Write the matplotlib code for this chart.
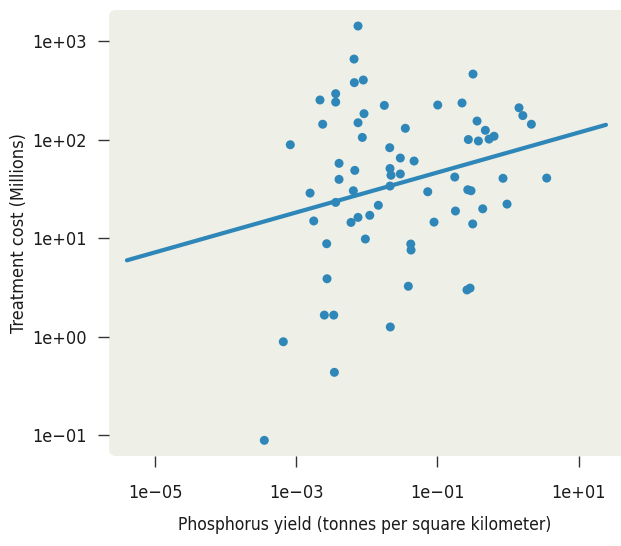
import numpy as np
import matplotlib
matplotlib.use('Agg')
import matplotlib.pyplot as plt
from matplotlib.patches import FancyBboxPatch
from matplotlib.ticker import FixedLocator, NullLocator

# phosphorus yield (t/km2) and treatment cost (millions)
yield_t = [0.0075, 0.00659, 0.00665, 0.00891, 0.00362, 0.00217, 0.00362, 0.0177,
           0.101, 0.00912, 0.0075, 0.00237, 0.00863, 0.0351, 0.000824, 0.0211,
           0.0298, 0.0467, 0.00404, 0.00675, 0.0213, 0.00404, 0.0220, 0.0298,
           0.00157, 0.00644, 0.00362, 0.0213, 0.01456, 0.0729, 0.00177, 0.00597,
           0.0075, 0.0110, 0.0895, 0.00270, 0.00953, 0.0419, 0.0423, 0.00273,
           0.0387, 0.00250, 0.00340, 0.0215, 0.000656, 0.00347, 0.000353, 0.319,
           0.223, 1.43, 1.62, 2.14, 0.364, 0.477, 0.274, 0.380,
           0.538, 0.634, 0.176, 0.849, 3.53, 0.269, 0.299, 0.180,
           0.438, 0.968, 0.316, 0.262, 0.290]
cost_m = [1420, 656, 378, 402, 292, 252, 240, 222,
          224, 183, 148, 143, 105, 130, 88.5, 82.6,
          64.9, 60.5, 57.3, 48.6, 50.8, 39.4, 43.4, 44.7,
          28.6, 30.2, 23.0, 33.7, 21.5, 29.5, 14.9, 14.4,
          16.2, 17.0, 14.5, 8.75, 9.77, 8.69, 7.55, 3.86,
          3.24, 1.65, 1.65, 1.25, 0.885, 0.433, 0.0883, 462,
          235, 210, 175, 143, 154, 124, 100, 96.6,
          101, 108, 41.6, 40.4, 40.6, 30.9, 30.2, 18.8,
          19.8, 22.1, 13.9, 2.97, 3.10]

# fitted line end points
fit_x = [4.0e-6, 24.4]
fit_y = [5.94, 141]

x_ticks = [1e-5, 1e-3, 1e-1, 1e1]
x_labels = ['1e\u221205', '1e\u221203', '1e\u221201', '1e+01']
y_ticks = [1e-1, 1e0, 1e1, 1e2, 1e3]
y_labels = ['1e\u221201', '1e+00', '1e+01', '1e+02', '1e+03']

plt.rcParams['font.family'] = ['DejaVu Sans']
plt.rcParams['font.stretch'] = 'condensed'

blue = '#2f87b9'
panel_col = '#eeefe6'
text_col = '#1a1a1a'

fig = plt.figure(figsize=(6.21, 5.46), dpi=100)
ax = fig.add_axes([109 / 621, 90 / 546, 512 / 621, 446 / 546])
ax.patch.set_visible(False)

# panel with rounded corners, drawn behind the axes
panel = FancyBboxPatch((109, 90), 520, 446, boxstyle='round,pad=0,rounding_size=7',
                       transform=None, facecolor=panel_col, edgecolor='none', zorder=-1)
fig.patches.append(panel)

ax.plot(fit_x, fit_y, color=blue, lw=3, solid_capstyle='round', zorder=2)
ax.scatter(yield_t, cost_m, s=42, color=blue, edgecolors='none', zorder=3)

ax.set_xscale('log')
ax.set_yscale('log')
ax.set_xlim(10 ** -5.652, 10 ** 1.600)
ax.set_ylim(10 ** -1.213, 10 ** 3.315)

ax.xaxis.set_major_locator(FixedLocator(x_ticks))
ax.yaxis.set_major_locator(FixedLocator(y_ticks))
ax.xaxis.set_minor_locator(NullLocator())
ax.yaxis.set_minor_locator(NullLocator())
ax.set_xticklabels(x_labels)
ax.set_yticklabels(y_labels)

for s in ax.spines.values():
    s.set_visible(False)
ax.tick_params(axis='both', length=8, width=1, color='#333333',
               labelsize=13, labelcolor=text_col)
ax.tick_params(axis='x', pad=12)
ax.tick_params(axis='y', pad=8)

ax.set_xlabel('Phosphorus yield (tonnes per square kilometer)', fontsize=12.5,
              color=text_col, labelpad=10)
ax.set_ylabel('Treatment cost (Millions)', fontsize=13, color=text_col, labelpad=3)

fig.savefig('out.png', dpi=100)
